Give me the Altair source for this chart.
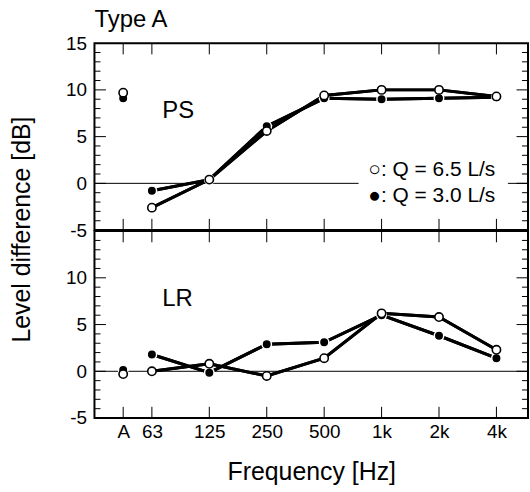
import altair as alt
import pandas as pd

# ---------------- data ----------------
bands = ["A", "63", "125", "250", "500", "1k", "2k", "4k"]
band_pos = [0.5, 1, 2, 3, 4, 5, 6, 7]          # A sits half an octave left of 63 Hz

ps_open = [9.7, -2.6, 0.4, 5.6, 9.4, 10.0, 10.0, 9.3]     # Q = 6.5 L/s
ps_filled = [9.1, -0.8, 0.4, 6.1, 9.1, 9.0, 9.1, 9.2]     # Q = 3.0 L/s
lr_open = [-0.3, 0.0, 0.8, -0.5, 1.4, 6.2, 5.8, 2.3]
lr_filled = [0.15, 1.8, -0.15, 2.9, 3.1, 6.0, 3.8, 1.4]

legend_labels = ["\u25cb: Q = 6.5 L/s", "\u25cf: Q = 3.0 L/s"]
panel_names = ["PS", "LR"]
y_major = [0, 5, 10]
y_minor = [v for v in range(-4, 15) if v % 5 != 0]

# ---------------- style ----------------
FONT = "Liberation Sans"
XDOM = [0, 7.55]
YDOM = [-5, 15]
W, H = 436, 188
XT = 1.2      # x tick length (dB units)
YT_MAJ = 0.2  # y major tick length (octave units)
YT_MIN = 0.105


def make_df(open_vals, filled_vals):
    rows = []
    for b, p, o, f in zip(bands, band_pos, open_vals, filled_vals):
        rows.append(dict(band=b, pos=p, value=o, series="open"))
        rows.append(dict(band=b, pos=p, value=f, series="filled"))
    return pd.DataFrame(rows)


label_expr = " : ".join(
    f"datum.value == {p} ? '{b}'" for b, p in zip(bands, band_pos)
) + " : ''"


def panel(open_vals, filled_vals, name, top):
    df = make_df(open_vals, filled_vals)
    xs = alt.Scale(domain=XDOM, nice=False, zero=False)
    ys = alt.Scale(domain=YDOM, nice=False, zero=False)

    if top:
        xaxis = alt.Axis(labels=False, title=None, values=band_pos)
        yaxis = alt.Axis(values=[-5, 0, 5, 10, 15], labelExpr="'' + datum.value", title=None)
    else:
        xaxis = alt.Axis(
            values=band_pos, labelExpr=label_expr, title="Frequency [Hz]",
            labelPadding=5, titleY=42, titleBaseline="top",
        )
        yaxis = alt.Axis(values=[-5, 0, 5, 10], labelExpr="'' + datum.value", title=None)

    X = lambda f="pos": alt.X(f"{f}:Q", scale=xs, axis=xaxis)
    Y = lambda f="value": alt.Y(f"{f}:Q", scale=ys, axis=yaxis)

    def pts(vals, key):
        return pd.DataFrame({"pos": band_pos, "value": vals, "band": bands, "series": key})

    octave = df[df["band"] != "A"]
    lines = alt.Chart(octave).mark_line(color="black", strokeWidth=3).encode(
        x=X(), y=Y(), detail="series:N"
    )
    filled_pts = alt.Chart(pts(filled_vals, "filled")).mark_point(
        shape="circle", filled=True, fill="black", stroke="white",
        strokeWidth=1.5, size=90, opacity=1
    ).encode(x=X(), y=Y())
    open_pts = alt.Chart(pts(open_vals, "open")).mark_point(
        shape="circle", filled=True, fill="white", stroke="black",
        strokeWidth=1.6, size=70, opacity=1
    ).encode(x=X(), y=Y())

    zero = alt.Chart(pd.DataFrame({"value": [0]})).mark_rule(
        color="black", strokeWidth=1
    ).encode(y=Y())

    tdf = pd.DataFrame({"pos": band_pos, "y1": YDOM[1], "y2": YDOM[1] - XT,
                        "b1": YDOM[0], "b2": YDOM[0] + XT})
    xt_top = alt.Chart(tdf).mark_rule(color="black", strokeWidth=1).encode(
        x=X(), y=Y("y1"), y2="y2:Q")
    xt_bot = alt.Chart(tdf).mark_rule(color="black", strokeWidth=1).encode(
        x=X(), y=Y("b1"), y2="b2:Q")

    layers = [zero, xt_top, xt_bot]
    for vals, ln in ((y_major, YT_MAJ), (y_minor, YT_MIN)):
        ydf = pd.DataFrame({"value": vals, "l1": XDOM[0], "l2": XDOM[0] + ln,
                            "r1": XDOM[1], "r2": XDOM[1] - ln})
        layers.append(alt.Chart(ydf).mark_rule(color="black", strokeWidth=1).encode(
            y=Y(), x=X("l1"), x2="l2:Q"))
        layers.append(alt.Chart(ydf).mark_rule(color="black", strokeWidth=1).encode(
            y=Y(), x=X("r1"), x2="r2:Q"))

    label = alt.Chart(pd.DataFrame({"t": [name], "pos": [1.18], "value": [7.0]})).mark_text(
        font=FONT, fontSize=24, align="left", baseline="alphabetic", color="black"
    ).encode(text="t:N", x=X(), y=Y())
    layers.append(label)

    if top:
        box = alt.Chart(pd.DataFrame({"pos": [4.6], "p2": [7.2], "value": [2.6], "v2": [-3.0]})).mark_rect(
            color="white").encode(x=X(), x2="p2:Q", y=Y(), y2="v2:Q")
        layers.append(box)
        leg = pd.DataFrame({"t": legend_labels, "pos": [4.77, 4.77], "value": [0.8, -2.0]})
        layers.append(alt.Chart(leg).mark_text(
            font=FONT, fontSize=21, align="left", baseline="alphabetic", color="black"
        ).encode(text="t:N", x=X(), y=Y()))

    layers = [lines] + layers + [lines, filled_pts, open_pts]
    ch = alt.layer(*layers).properties(width=W, height=H)
    if top:
        ch = ch.properties(title=alt.TitleParams(
            text="Type A", anchor="start", frame="group", fontSize=24, font=FONT,
            fontWeight="normal", baseline="alphabetic", offset=14, dy=31, dx=0,
            color="black"))
    return ch


top = panel(ps_open, ps_filled, panel_names[0], True)
bottom = panel(lr_open, lr_filled, panel_names[1], False)

chart = alt.vconcat(top, bottom, spacing=1, bounds="flush").properties(
    title=alt.TitleParams(
        text="Level difference [dB]", orient="left", anchor="middle", frame="bounds",
        font=FONT, fontSize=25, fontWeight="normal", color="black",
        baseline="alphabetic", offset=10, dx=17,
    ),
    padding={"left": 9, "top": 6, "right": 0, "bottom": 2},
    background="white",
).configure_view(stroke="black", strokeWidth=2).configure_axis(
    grid=False, ticks=False, domain=False, labelFont=FONT, labelFontSize=19,
    labelColor="black", labelPadding=8, titleFont=FONT, titleFontSize=25,
    titleFontWeight="normal", titleColor="black",
)

chart.save("out.html", embed_options={"renderer": "svg", "actions": False})
